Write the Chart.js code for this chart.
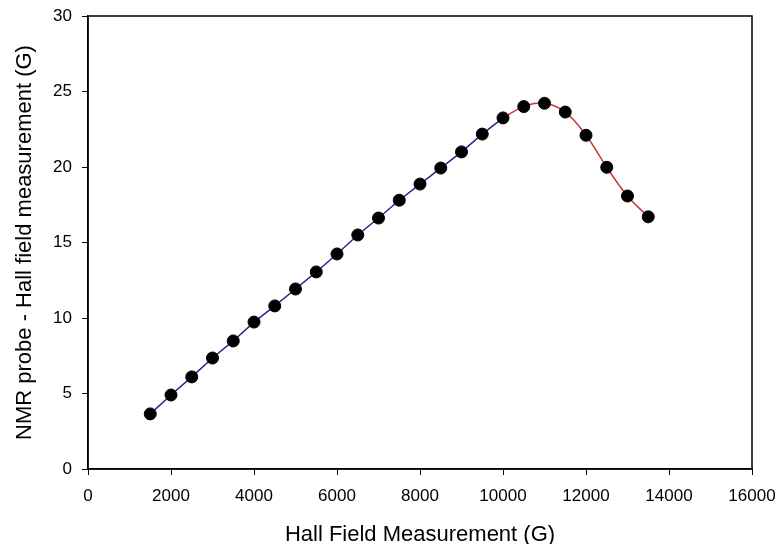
<!DOCTYPE html>
<html>
<head>
<meta charset="utf-8">
<script src="https://cdn.jsdelivr.net/npm/chart.js@4"></script>
<style>
  html, body { margin: 0; padding: 0; background: #fff; }
  #wrap { width: 776px; height: 544px; }
</style>
</head>
<body>
<div id="wrap"><canvas id="myChart" width="776" height="544"></canvas></div>
<script>
// Hall probe reading (G) and the NMR - Hall difference (G)
const hallField = [1500, 2000, 2500, 3000, 3500, 4000, 4500, 5000, 5500, 6000, 6500, 7000,
  7500, 8000, 8500, 9000, 9500, 10000, 10500, 11000, 11500, 12000, 12500, 13000, 13500]
const probeDiff = [3.65, 4.9, 6.1, 7.35, 8.48, 9.73, 10.8, 11.92, 13.05, 14.24, 15.5, 16.62,
  17.8, 18.87, 19.93, 21.0, 22.18, 23.25, 24.0, 24.22, 23.64, 22.1, 19.98, 18.08, 16.7]
// linear part ends at 10000 G, the curved part starts there
const linearEnd = 10000
const xTicks = [0, 2000, 4000, 6000, 8000, 10000, 12000, 14000, 16000]
const yTicks = [0, 5, 10, 15, 20, 25, 30]

const points = hallField.map((x, i) => ({ x: x, y: probeDiff[i] }))
const linearPart = points.filter(p => p.x <= linearEnd)
const curvePart = points.filter(p => p.x >= linearEnd)

const frame = {
  id: 'frame',
  afterDatasetsDraw(chart) {
    const a = chart.chartArea
    const ctx = chart.ctx
    ctx.save()
    ctx.strokeStyle = '#000'
    ctx.lineWidth = 1.5
    ctx.strokeRect(a.left, a.top, a.right - a.left, a.bottom - a.top)
    ctx.restore()
  }
}

const labelFont = { family: 'Liberation Sans, Arial, sans-serif', size: 17 }
const titleFont = { family: 'Liberation Sans, Arial, sans-serif', size: 22 }

new Chart(document.getElementById('myChart').getContext('2d'), {
  type: 'scatter',
  data: {
    datasets: [
      {
        data: points,
        showLine: false,
        pointRadius: 6,
        pointBackgroundColor: '#000',
        pointBorderColor: '#000',
        order: 0
      },
      {
        data: linearPart,
        showLine: true,
        borderColor: '#26268f',
        borderWidth: 1.5,
        pointRadius: 0,
        tension: 0,
        order: 1
      },
      {
        data: curvePart,
        showLine: true,
        borderColor: '#cc3838',
        borderWidth: 1.5,
        pointRadius: 0,
        tension: 0.4,
        order: 1
      }
    ]
  },
  plugins: [frame],
  options: {
    responsive: false,
    animation: false,
    layout: { padding: { top: 16, right: 24, left: 0, bottom: 0 } },
    plugins: { legend: { display: false }, tooltip: { enabled: false } },
    scales: {
      x: {
        type: 'linear',
        min: 0,
        max: 16000,
        afterBuildTicks: s => { s.ticks = xTicks.map(v => ({ value: v })) },
        afterFit: s => { s.height = 75; s.paddingLeft = 0; s.paddingRight = 0 },
        grid: { drawOnChartArea: false, drawTicks: true, tickLength: 6, color: '#000', lineWidth: 1 },
        border: { display: true, color: '#000', width: 1.5 },
        ticks: { color: '#000', font: labelFont, padding: 11, maxRotation: 0, callback: v => String(v) },
        title: { display: true, text: 'Hall Field Measurement (G)', color: '#000', font: titleFont, padding: { top: 0, bottom: -4 } }
      },
      y: {
        type: 'linear',
        min: 0,
        max: 30,
        afterBuildTicks: s => { s.ticks = yTicks.map(v => ({ value: v })) },
        afterFit: s => { s.width = 88; s.paddingTop = 0; s.paddingBottom = 0 },
        grid: { drawOnChartArea: false, drawTicks: true, tickLength: 6, color: '#000', lineWidth: 1 },
        border: { display: true, color: '#000', width: 1.5 },
        ticks: { color: '#000', font: labelFont, padding: 10, callback: v => String(v) },
        title: { display: true, text: 'NMR probe - Hall field measurement (G)', color: '#000', font: titleFont, padding: { top: 12, bottom: 0 } }
      }
    }
  }
})
</script>
</body>
</html>
